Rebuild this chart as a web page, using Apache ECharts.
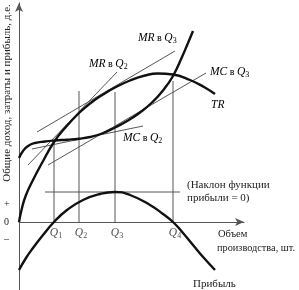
<!DOCTYPE html>
<html><head><meta charset="utf-8">
<script src="https://cdn.jsdelivr.net/npm/echarts@6/dist/echarts.min.js"></script>
<style>html,body{margin:0;padding:0;background:#fff}#c{width:299px;height:290px}</style>
</head><body><div id="c"></div>
<script>
// Total cost curve (TC)
const tcX = [0, 4, 9, 16, 26, 36, 48, 60, 71, 83, 96, 109, 121, 133, 144, 154, 163, 169, 174];
const tcY = [64, 71, 76, 79, 80.5, 81.5, 82.3, 83.3, 85, 88.5, 94.5, 101.5, 109.5, 119.5, 131.5, 146, 165, 179, 191];
// Total revenue curve (TR)
const trX = [0, 3, 7, 14, 23, 35, 46, 60, 71, 84, 96, 111, 126, 139, 154, 171, 185, 196];
const trY = [0, 14, 27, 42, 59, 80, 94, 109, 118.5, 127.5, 134.5, 141.5, 146.5, 148.5, 147.5, 142, 135, 128];
// Profit curve
const prX = [0, 7, 14, 24, 35, 48, 64, 81, 96, 111, 131, 144, 154, 164, 174, 185, 196];
const prY = [-48, -36, -26, -13, 0, 12, 22, 28, 30, 27, 17, 8, 0, -11, -23, -36, -48];
// Quantities Q1..Q4 and top of their guide lines
const qNames = ['1', '2', '3', '4'];
const qValues = [35, 60, 96, 154];
const qTops = [82, 131, 130, 141];
// Tangent lines: [x1, y1, x2, y2]
const mrQ2 = [9, 57, 98, 150];
const mrQ3 = [18, 90, 156, 171];
const mcQ2 = [13, 73, 124, 96];
const mcQ3 = [29, 57, 187, 149];
// Zero-slope line of profit at max
const flatLine = [26, 30, 161, 30];

const serif = '"Liberation Serif", "DejaVu Serif", serif';
const zip = (xs, ys) => xs.map((x, i) => [x, ys[i]]);
const thick = { color: '#111', width: 2.4 };
const thin = { color: '#444', width: 0.9 };

const series = [];
function curve(data) {
  series.push({ type: 'line', data, smooth: 0.5, symbol: 'none', lineStyle: thick, silent: true, z: 5 });
}
function seg(s) {
  series.push({ type: 'line', data: [[s[0], s[1]], [s[2], s[3]]], symbol: 'none', lineStyle: thin, silent: true, z: 3 });
}
curve(zip(tcX, tcY));
curve(zip(trX, trY));
curve(zip(prX, prY));
[mrQ2, mrQ3, mcQ2, mcQ3, flatLine].forEach(seg);
qValues.forEach((q, i) => seg([q, 0, q, qTops[i]]));
// Q labels below axis
series.push({
  type: 'scatter', symbolSize: 0, silent: true,
  data: qValues.map((q, i) => ({ value: [q, 0], name: qNames[i] })),
  label: {
    show: true, position: 'bottom', distance: 4, offset: [2, 0],
    formatter: p => '{q|Q}{s|' + p.name + '}',
    rich: {
      q: { fontFamily: serif, fontStyle: 'italic', fontSize: 11.5, color: '#222', lineHeight: 14 },
      s: { fontFamily: serif, fontSize: 8, color: '#222', verticalAlign: 'bottom', lineHeight: 14 }
    }
  }
});

const richL = {
  i: { fontFamily: serif, fontStyle: 'italic', fontSize: 11.5, color: '#222', lineHeight: 14 },
  n: { fontFamily: serif, fontSize: 10, color: '#222', lineHeight: 14 },
  s: { fontFamily: serif, fontSize: 8, color: '#222', verticalAlign: 'bottom', lineHeight: 14 }
};
function rt(text, x, y) {
  return { type: 'text', x, y, silent: true, style: { text, rich: richL, verticalAlign: 'middle', align: 'left' } };
}
function pt(text, x, y, size) {
  return { type: 'text', x, y, silent: true,
    style: { text, fontFamily: serif, fontSize: size || 11, fill: '#222', verticalAlign: 'middle', align: 'left' } };
}

const chart = echarts.init(document.getElementById('c'), null, { renderer: 'canvas' });
chart.setOption({
  animation: false,
  backgroundColor: '#fff',
  grid: { left: 19, top: 3, width: 225, height: 287, containLabel: false },
  xAxis: {
    type: 'value', min: 0, max: 225,
    axisLine: { onZero: true, symbol: ['none', 'arrow'], symbolSize: [6, 9], lineStyle: { color: '#555', width: 1 } },
    axisTick: { show: false }, axisLabel: { show: false }, splitLine: { show: false }
  },
  yAxis: {
    type: 'value', min: -68, max: 219,
    axisLine: { show: true, onZero: false, symbol: ['none', 'arrow'], symbolSize: [6, 9], lineStyle: { color: '#555', width: 1 } },
    axisTick: { show: false }, axisLabel: { show: false }, splitLine: { show: false }
  },
  series,
  graphic: [
    { type: 'text', x: 7, y: 93, rotation: Math.PI / 2, silent: true,
      style: { text: 'Общие доход, затраты и прибыль, д.е.', fontFamily: serif, fontSize: 11, fill: '#222', verticalAlign: 'middle', align: 'center' } },
    pt('+', 4, 204, 10),
    pt('0', 4, 222, 10),
    pt('–', 4, 239, 10),
    rt('{i|MR}{n| в }{i|Q}{s|3}', 138, 38),
    rt('{i|MR}{n| в }{i|Q}{s|2}', 89, 64),
    rt('{i|MC}{n| в }{i|Q}{s|3}', 210, 72),
    rt('{i|TR}', 211, 105),
    rt('{i|MC}{n| в }{i|Q}{s|2}', 123, 138),
    pt('(Наклон функции', 187, 185),
    pt('прибыли = 0)', 187, 198),
    pt('Объем', 218, 234, 10.5),
    pt('производства, шт.', 217, 248, 10.3),
    pt('Прибыль', 193, 284)
  ]
});
</script>
</body></html>
